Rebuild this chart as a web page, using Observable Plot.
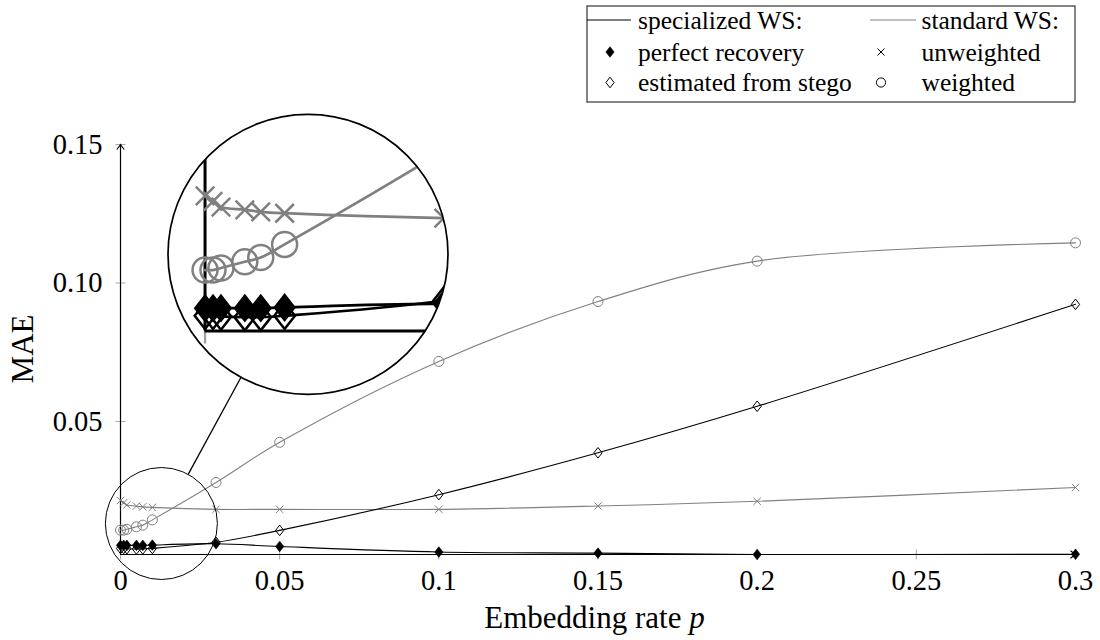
<!DOCTYPE html>
<html><head><meta charset="utf-8">
<script src="https://cdn.jsdelivr.net/npm/d3@7"></script>
<script src="https://cdn.jsdelivr.net/npm/@observablehq/plot@0.6"></script>
<style>
html,body{margin:0;padding:0;background:#fff;}
#wrap{position:relative;width:1100px;height:640px;overflow:hidden;background:#fff;}
#wrap svg{display:block;}
</style></head><body>
<div id="wrap"><div id="legend"></div><div id="chart"></div></div>
<script>
// ---------- data ----------
const rates = [0, 0.001, 0.002, 0.005, 0.007, 0.01, 0.03, 0.05, 0.1, 0.15, 0.2, 0.3];
const perfectRecovery    = [0.0053, 0.0053, 0.0053, 0.0053, 0.0053, 0.0054, 0.0059, 0.0049, 0.0029, 0.0025, 0.0020, 0.0021];
const estimatedFromStego = [0.0042, 0.0042, 0.0041, 0.0040, 0.0040, 0.0042, 0.0064, 0.0107, 0.0236, 0.0387, 0.0555, 0.0923];
const unweighted         = [0.0215, 0.0207, 0.0199, 0.0195, 0.0192, 0.0190, 0.0183, 0.0183, 0.0183, 0.0195, 0.0212, 0.0262];
const weighted           = [0.0108, 0.0108, 0.0111, 0.0120, 0.0126, 0.0145, 0.0280, 0.0425, 0.0717, 0.0933, 0.1079, 0.1145];
const xTicks = [0, 0.05, 0.1, 0.15, 0.2, 0.25, 0.3];
const xTickLabels = ["0", "0.05", "0.1", "0.15", "0.2", "0.25", "0.3"];
const yTicks = [0.05, 0.10, 0.15];
const yTickLabels = ["0.05", "0.10", "0.15"];
const xDomain = [0, 0.3];
const yDomain = [0.002, 0.15];
const xLabelText = "Embedding rate ";
const xLabelVar = "p";
const yLabelText = "MAE";
const legendHeaders = ["specialized WS:", "standard WS:"];
const legendLabels = ["perfect recovery", "estimated from stego", "unweighted", "weighted"];
const spy = {p: 0.013, v: 0.013}; // spyglass centre (data units)

// ---------- styles ----------
const GRAY = "#808080";
const FONT = "'Liberation Serif', 'Times New Roman', serif";
const rows = rates.map((p, i) => ({p, perfect: perfectRecovery[i], estimated: estimatedFromStego[i], unweighted: unweighted[i], weighted: weighted[i]}));

const rad = size => Math.sqrt(size / Math.PI);
const diamondSym = {draw(c, s) { const r = rad(s), w = r * 0.78; c.moveTo(0, -r); c.lineTo(w, 0); c.lineTo(0, r); c.lineTo(-w, 0); c.closePath(); }};
const crossSym = {draw(c, s) { const r = rad(s); c.moveTo(-r, -r); c.lineTo(r, r); c.moveTo(-r, r); c.lineTo(r, -r); }};
const circleSym = {draw(c, s) { const r = rad(s); c.moveTo(r, 0); c.arc(0, 0, r, 0, 2 * Math.PI); }};
const vTickSym = {draw(c, s) { const r = rad(s); c.moveTo(0, -r); c.lineTo(0, r); }};
const hTickSym = {draw(c, s) { const r = rad(s); c.moveTo(-r, 0); c.lineTo(r, 0); }};
const arrowSym = {draw(c, s) { const r = rad(s); c.moveTo(-r * 0.75, r); c.quadraticCurveTo(-r * 0.2, r * 0.35, 0, 0); c.quadraticCurveTo(r * 0.2, r * 0.35, r * 0.75, r); }};

function frameMarks(k) {
  return [
    Plot.dot(xTicks, {x: d => d, y: () => yDomain[0], symbol: vTickSym, r: 5 * k, stroke: "#a0a0a0", fill: "none", strokeWidth: 0.9 * k}),
    Plot.dot(yTicks, {x: () => xDomain[0], y: d => d, symbol: hTickSym, r: 5 * k, stroke: "#a0a0a0", fill: "none", strokeWidth: 0.9 * k}),
    Plot.ruleX([xDomain[0]], {y1: yDomain[0], y2: yDomain[1], stroke: "black", strokeWidth: 1.2 * k}),
    Plot.ruleY([yDomain[0]], {x1: xDomain[0], x2: xDomain[1], stroke: "black", strokeWidth: 1.2 * k}),
    Plot.dot([0], {x: () => xDomain[0], y: () => yDomain[1], symbol: arrowSym, r: 5 * k, stroke: "black", fill: "none", strokeWidth: 1.1 * k}),
    Plot.dot([0], {x: () => xDomain[1], y: () => yDomain[0], symbol: arrowSym, rotate: 90, r: 5 * k, stroke: "black", fill: "none", strokeWidth: 1.1 * k})
  ];
}
function seriesMarks(k) {
  const lw = 1.1 * k;
  return [
    Plot.line(rows, {x: "p", y: "unweighted", stroke: GRAY, strokeWidth: lw, curve: "catmull-rom"}),
    Plot.line(rows, {x: "p", y: "weighted", stroke: GRAY, strokeWidth: lw, curve: "catmull-rom"}),
    Plot.line(rows, {x: "p", y: "estimated", stroke: "black", strokeWidth: lw, curve: "catmull-rom"}),
    Plot.line(rows, {x: "p", y: "perfect", stroke: "black", strokeWidth: lw, curve: "catmull-rom"}),
    Plot.dot(rows, {x: "p", y: "unweighted", symbol: crossSym, r: 3.7 * k, stroke: GRAY, fill: "none", strokeWidth: 1 * k}),
    Plot.dot(rows, {x: "p", y: "weighted", symbol: circleSym, r: 5 * k, stroke: GRAY, fill: "none", strokeWidth: 1 * k}),
    Plot.dot(rows, {x: "p", y: "estimated", symbol: diamondSym, r: 5.3 * k, stroke: "black", fill: "none", strokeWidth: 1 * k}),
    Plot.dot(rows, {x: "p", y: "perfect", symbol: diamondSym, r: 5.3 * k, stroke: "black", fill: "black", strokeWidth: 0.6 * k})
  ];
}

// ---------- main chart ----------
const chart = Plot.plot({
  width: 1100, height: 536,
  marginLeft: 120, marginRight: 25, marginTop: 40, marginBottom: 86,
  style: {fontFamily: FONT, fontSize: "28.5px", color: "black", background: "white"},
  x: {domain: xDomain, axis: null},
  y: {domain: yDomain, axis: null},
  marks: [
    ...frameMarks(1),
    Plot.axisX({ticks: xTicks, tickFormat: d => xTickLabels[xTicks.indexOf(d)], tickSize: 0, tickPadding: 15, label: null, fontVariant: "normal"}),
    Plot.axisY({ticks: yTicks, tickFormat: d => yTickLabels[yTicks.indexOf(d)], tickSize: 0, tickPadding: 18, label: null, fontVariant: "normal"}),
    ...seriesMarks(1)
  ]
});
document.getElementById("chart").appendChild(chart);

const svg = d3.select(chart);
const xs = chart.scale("x"), ys = chart.scale("y");
const kx = Math.abs(xs.range[1] - xs.range[0]) / (xs.domain[1] - xs.domain[0]);
const ky = Math.abs(ys.range[1] - ys.range[0]) / (ys.domain[1] - ys.domain[0]);

// axis labels
const xMid = (xs.range[0] + xs.range[1]) / 2, yMid = (ys.range[0] + ys.range[1]) / 2;
const xl = svg.append("text").attr("x", xMid - 3).attr("y", 524).attr("text-anchor", "middle")
  .attr("font-family", FONT).attr("font-size", 31).attr("fill", "black");
xl.append("tspan").text(xLabelText);
xl.append("tspan").attr("font-style", "italic").text(xLabelVar);
svg.append("text").attr("transform", `translate(33,${yMid}) rotate(-90)`).attr("text-anchor", "middle")
  .attr("font-family", FONT).attr("font-size", 31).attr("fill", "black").text(yLabelText);

// ---------- spy / magnified inset ----------
const SPY_R = 56, MAG = 2.5, BIG_CX = 308, BIG_CY = 150.3;
const R = SPY_R * MAG;
const sx0 = xs.apply(spy.p), sy0 = ys.apply(spy.v);
const inset = Plot.plot({
  width: 2 * R, height: 2 * R, margin: 0,
  x: {domain: [spy.p - R / (kx * MAG), spy.p + R / (kx * MAG)], axis: null},
  y: {domain: [spy.v - R / (ky * MAG), spy.v + R / (ky * MAG)], axis: null},
  marks: [...frameMarks(MAG), ...seriesMarks(MAG)]
});
svg.append("defs").append("clipPath").attr("id", "spyclip")
  .append("circle").attr("cx", BIG_CX).attr("cy", BIG_CY).attr("r", R);
svg.append("circle").attr("cx", sx0).attr("cy", sy0).attr("r", SPY_R)
  .attr("fill", "none").attr("stroke", "black").attr("stroke-width", 1);
const ddx = BIG_CX - sx0, ddy = BIG_CY - sy0, L = Math.hypot(ddx, ddy), ux = ddx / L, uy = ddy / L;
svg.append("line").attr("x1", sx0 + ux * SPY_R).attr("y1", sy0 + uy * SPY_R)
  .attr("x2", BIG_CX - ux * R).attr("y2", BIG_CY - uy * R)
  .attr("stroke", "black").attr("stroke-width", 1.3);
const g = svg.append("g").attr("clip-path", "url(#spyclip)");
g.append("circle").attr("cx", BIG_CX).attr("cy", BIG_CY).attr("r", R).attr("fill", "white");
const inner = g.append("g").attr("transform", `translate(${BIG_CX - R},${BIG_CY - R})`);
Array.from(inset.childNodes).forEach(n => { if (n.nodeName.toLowerCase() !== "style") inner.node().appendChild(n); });
svg.append("circle").attr("cx", BIG_CX).attr("cy", BIG_CY).attr("r", R)
  .attr("fill", "none").attr("stroke", "black").attr("stroke-width", 1.7);

// ---------- legend ----------
const lg = d3.select("#legend").append("svg").attr("width", 1100).attr("height", 104);
lg.append("rect").attr("x", 587).attr("y", 6).attr("width", 488).attr("height", 96)
  .attr("fill", "white").attr("stroke", "#333").attr("stroke-width", 1.2);
const sym = (type, r) => d3.symbol().type(type).size(Math.PI * r * r)();
lg.append("line").attr("x1", 587).attr("x2", 631).attr("y1", 20).attr("y2", 20).attr("stroke", "black").attr("stroke-width", 1.2);
lg.append("line").attr("x1", 870).attr("x2", 916).attr("y1", 20).attr("y2", 20).attr("stroke", GRAY).attr("stroke-width", 1.2);
lg.append("path").attr("d", sym(diamondSym, 5.3)).attr("transform", "translate(610,52)").attr("fill", "black").attr("stroke", "black").attr("stroke-width", 0.6);
lg.append("path").attr("d", sym(diamondSym, 5.3)).attr("transform", "translate(610,82.5)").attr("fill", "none").attr("stroke", "black").attr("stroke-width", 1);
lg.append("path").attr("d", sym(crossSym, 3.5)).attr("transform", "translate(881,52)").attr("fill", "none").attr("stroke", "black").attr("stroke-width", 1);
lg.append("path").attr("d", sym(circleSym, 4.6)).attr("transform", "translate(881,82.5)").attr("fill", "none").attr("stroke", "black").attr("stroke-width", 1);
const legendText = [
  [legendHeaders[0], 638, 29], [legendHeaders[1], 921.5, 29],
  [legendLabels[0], 638, 61], [legendLabels[1], 638, 91],
  [legendLabels[2], 921.5, 61], [legendLabels[3], 921.5, 91]
];
lg.selectAll("text.lt").data(legendText).join("text").attr("class", "lt")
  .attr("x", d => d[1]).attr("y", d => d[2]).attr("font-family", FONT).attr("font-size", 25.5)
  .attr("fill", "black").text(d => d[0]);
</script>
</body></html>
